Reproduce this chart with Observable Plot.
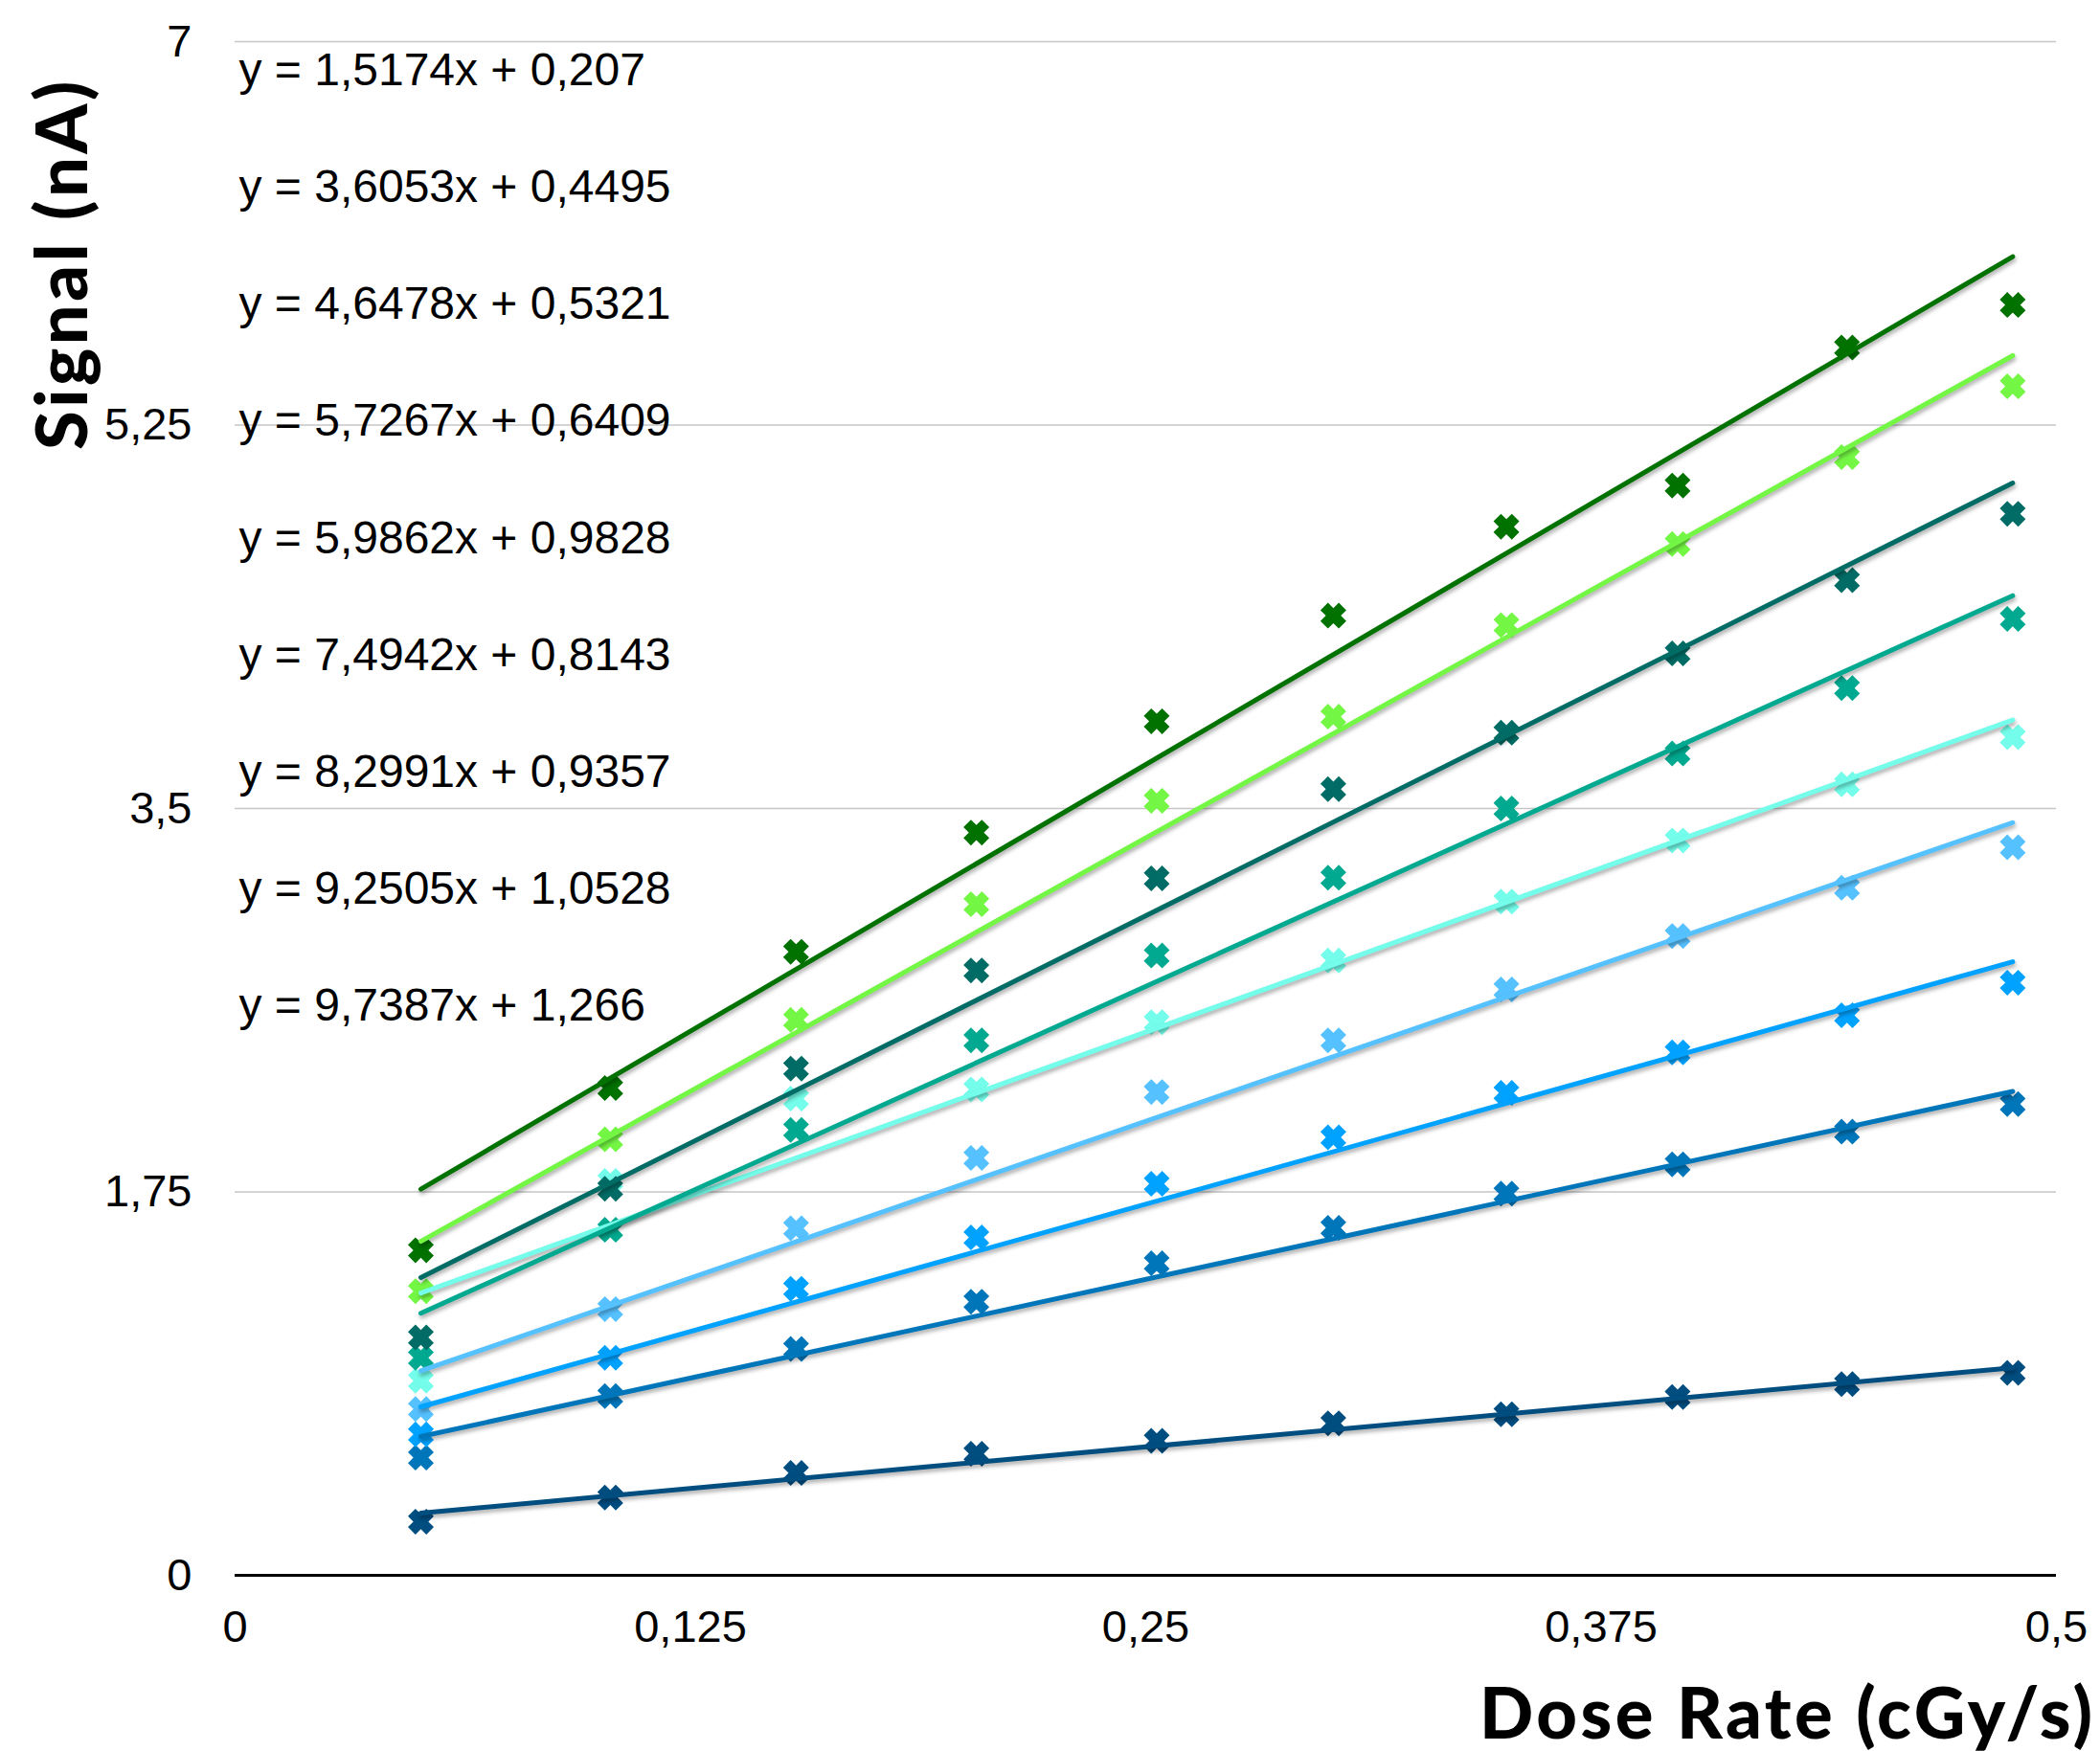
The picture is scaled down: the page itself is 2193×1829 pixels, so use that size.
<!DOCTYPE html>
<html>
<head>
<meta charset="utf-8">
<script src="https://cdn.jsdelivr.net/npm/d3@7"></script>
<script src="https://cdn.jsdelivr.net/npm/@observablehq/plot@0.6"></script>
<style>
  html, body { margin: 0; padding: 0; background: #ffffff; }
  #chart svg { display: block; }
  #chart g[aria-label="line"] path { filter: drop-shadow(1px 3px 2px rgba(0, 0, 0, 0.33)); }
  #chart g[font-weight="900"] text { letter-spacing: 3.5px; }
</style>
</head>
<body>
<div id="chart"></div>
<script>
// Dose rates (cGy/s) at which the signal was sampled
const doseRate = [0.051, 0.103, 0.154, 0.2035, 0.253, 0.3015, 0.349, 0.396, 0.4425, 0.488];

// Measured signal (nA), one array per detector configuration (bottom to top)
const signal1 = [0.245, 0.355, 0.467, 0.555, 0.614, 0.694, 0.735, 0.814, 0.873, 0.924];
const signal2 = [0.537, 0.818, 1.033, 1.249, 1.424, 1.586, 1.742, 1.876, 2.025, 2.151];
const signal3 = [0.643, 0.993, 1.308, 1.542, 1.787, 1.999, 2.202, 2.387, 2.556, 2.705];
const signal4 = [0.759, 1.215, 1.584, 1.905, 2.206, 2.442, 2.674, 2.918, 3.138, 3.323];
const signal5 = [0.888, 1.800, 2.176, 2.218, 2.525, 2.806, 3.075, 3.354, 3.610, 3.826];
const signal6 = [0.993, 1.577, 2.033, 2.442, 2.829, 3.184, 3.500, 3.751, 4.050, 4.365];
const signal7 = [1.086, 1.764, 2.313, 2.761, 3.181, 3.588, 3.846, 4.208, 4.542, 4.845];
const signal8 = [1.297, 1.990, 2.535, 3.063, 3.535, 3.919, 4.337, 4.707, 5.104, 5.427];
const signal9 = [1.484, 2.224, 2.846, 3.390, 3.898, 4.380, 4.786, 4.974, 5.604, 5.798];

// Linear fits y = slope * x + intercept for each configuration
const slopes     = [1.5174, 3.6053, 4.6478, 5.7267, 5.9862, 7.4942, 8.2991, 9.2505, 9.7387];
const intercepts = [0.207, 0.4495, 0.5321, 0.6409, 0.9828, 0.8143, 0.9357, 1.0528, 1.266];

const colors = ["#004D80", "#0076BA", "#00A2FF", "#56C1FF", "#73FDEA", "#00A98F", "#006C65", "#74F744", "#017100"];

const xTicks = [0, 0.125, 0.25, 0.375, 0.5];
const yTicks = [0, 1.75, 3.5, 5.25, 7];

const series = [signal1, signal2, signal3, signal4, signal5, signal6, signal7, signal8, signal9];

// decimal comma, as in the source locale
const comma = v => String(v).replace(".", ",");

// chunky "X" marker: a plus sign turned by 45 degrees
const xMark = {
  draw(context, size) {
    const r = Math.sqrt(size / Math.PI);          // half extent of the bounding box
    const a = r * 0.41, L = r * Math.SQRT2 - a;   // arm half-width, arm half-length
    const pts = [[a,-L],[a,-a],[L,-a],[L,a],[a,a],[a,L],[-a,L],[-a,a],[-L,a],[-L,-a],[-a,-a],[-a,-L]];
    pts.forEach(([x, y], i) => {
      const px = (x - y) / Math.SQRT2, py = (x + y) / Math.SQRT2;
      if (i === 0) context.moveTo(px, py); else context.lineTo(px, py);
    });
    context.closePath();
  }
};

const points = series.map((ys, s) => ys.map((y, i) => ({x: doseRate[i], y, s})));
const fits = slopes.map((m, s) => {
  const x0 = d3.min(doseRate), x1 = d3.max(doseRate);
  return [{x: x0, y: m * x0 + intercepts[s]}, {x: x1, y: m * x1 + intercepts[s]}];
});
const equations = slopes.map((m, s) => `y = ${comma(m)}x + ${comma(intercepts[s])}`);

const labelFont = "Liberation Sans, Arial, Helvetica, sans-serif";
const titleFont = "Lato, 'Open Sans', Inter, sans-serif";

const chart = Plot.plot({
  width: 2193,
  height: 1829,
  marginLeft: 245,
  marginRight: 46,
  marginTop: 43,
  marginBottom: 184,
  style: {fontFamily: labelFont, fontSize: "47px", color: "#000", background: "#fff", overflow: "visible"},
  x: {domain: [0, 0.5], ticks: xTicks, tickFormat: comma, tickSize: 0, tickPadding: 36, label: null},
  y: {domain: [0, 7], ticks: yTicks, tickFormat: comma, tickSize: 0, tickPadding: 45, label: null},
  marks: [
    Plot.ruleY(yTicks.filter(v => v > 0), {stroke: "#c6c6c6", strokeWidth: 1.5}),
    Plot.ruleY([0], {stroke: "#000", strokeWidth: 3}),
    ...points.map((pts, s) => Plot.dot(pts, {x: "x", y: "y", r: 13.5, symbol: xMark, fill: colors[s], stroke: "none"})),
    ...fits.map((f, s) => Plot.line(f, {x: "x", y: "y", stroke: colors[s], strokeWidth: 5})),
    ...equations.map((eq, i) => Plot.text([eq], {
      frameAnchor: "top-left", dx: 4, dy: 30 + i * 122.2,
      text: d => d, textAnchor: "start", lineAnchor: "middle",
      fontSize: 48, fontFamily: labelFont, fill: "#000"
    })),
    Plot.text(["Dose Rate (cGy/s)"], {
      frameAnchor: "bottom-right", dx: 41, dy: 147,
      text: d => d, textAnchor: "end", lineAnchor: "middle",
      fontSize: 74, fontWeight: 900, fontFamily: titleFont, fill: "#000"
    }),
    Plot.text(["Signal (nA)"], {
      frameAnchor: "top-left", dx: -178, dy: 232, rotate: -90,
      text: d => d, textAnchor: "middle", lineAnchor: "middle",
      fontSize: 74, fontWeight: 900, fontFamily: titleFont, fill: "#000"
    })
  ]
});

document.getElementById("chart").appendChild(chart);
</script>
</body>
</html>
